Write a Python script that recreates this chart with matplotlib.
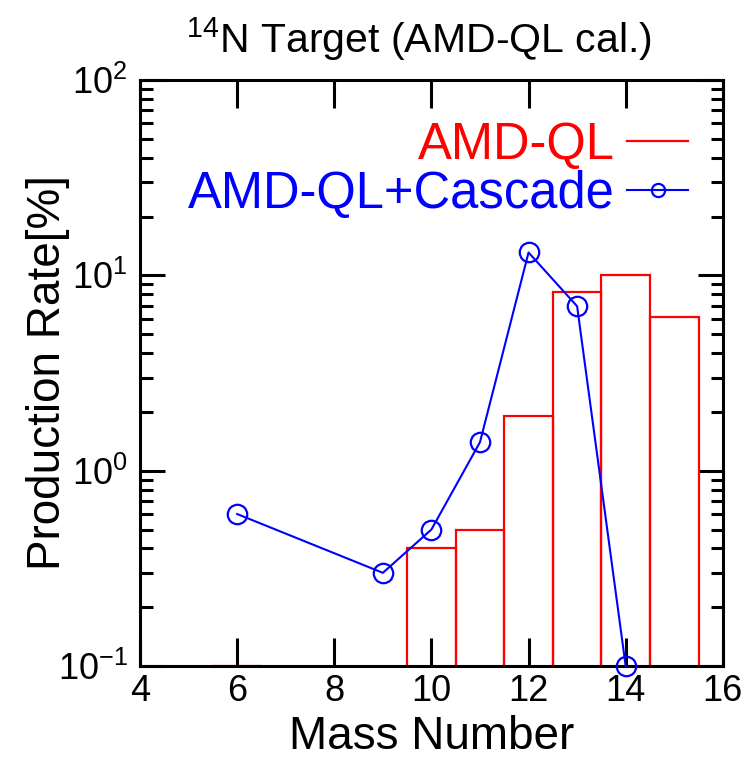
import matplotlib
matplotlib.use('Agg')
import matplotlib.pyplot as plt
from matplotlib.lines import Line2D
from matplotlib.ticker import LogLocator, NullFormatter, FixedLocator

plt.rcParams['font.family'] = ['Liberation Sans', 'DejaVu Sans']
plt.rcParams['mathtext.fontset'] = 'custom'
plt.rcParams['mathtext.rm'] = 'Liberation Sans'
plt.rcParams['mathtext.it'] = 'Liberation Sans'
plt.rcParams['mathtext.bf'] = 'Liberation Sans'
plt.rcParams['mathtext.default'] = 'regular'

# AMD-QL histogram (mass number -> production rate %)
amd_mass = [6, 10, 11, 12, 13, 14, 15]
amd_rate = [0.1, 0.4, 0.5, 1.9, 8.2, 10.0, 6.1]

# AMD-QL + Cascade
casc_mass = [6, 9, 10, 11, 12, 13, 14]
casc_rate = [0.6, 0.3, 0.5, 1.4, 13.1, 6.95, 0.1]

x_ticks = [4, 6, 8, 10, 12, 14, 16]

fig = plt.figure(figsize=(7.49, 7.59), dpi=100)
ax = fig.add_axes([0.187, 0.1225, 0.778, 0.772])

ax.bar(amd_mass, amd_rate, width=1.0, fill=False, edgecolor='red',
       linewidth=1.6, zorder=2)
ax.plot(casc_mass, casc_rate, color='blue', linewidth=1.5, marker='o',
        markersize=14, markerfacecolor='none', markeredgewidth=1.6,
        clip_on=False, zorder=3)

ax.set_yscale('log')
ax.set_xlim(4, 16)
ax.set_ylim(0.1, 100)

ax.xaxis.set_major_locator(FixedLocator(x_ticks))
ax.yaxis.set_major_locator(LogLocator(base=10, numticks=10))
ax.yaxis.set_minor_locator(LogLocator(base=10, subs=range(2, 10), numticks=10))
ax.yaxis.set_minor_formatter(NullFormatter())

for s in ax.spines.values():
    s.set_linewidth(2.2)

ax.tick_params(axis='both', which='major', direction='in', top=True, right=True,
               width=2.2, labelsize=26)
ax.tick_params(axis='x', which='major', length=20, pad=6)
ax.tick_params(axis='y', which='major', length=18, pad=9)
ax.tick_params(axis='y', which='minor', direction='in', right=True,
               length=9, width=2.2)

ax.set_xlabel('Mass Number', fontsize=33, labelpad=4)
ax.set_ylabel('Production Rate[%]', fontsize=33, labelpad=-9)
ax.set_title('$^{14}$N Target (AMD-QL cal.)', fontsize=29.5, pad=20, x=0.478)

handles = [
    Line2D([], [], color='red', linewidth=1.6),
    Line2D([], [], color='blue', linewidth=1.5, marker='o', markersize=9.5,
           markerfacecolor='none', markeredgewidth=1.6),
]
leg = ax.legend(handles, ['AMD-QL', 'AMD-QL+Cascade'], loc='upper right',
                bbox_to_anchor=(0.975, 0.965), frameon=False, markerfirst=False,
                fontsize=36.5, handlelength=1.2, handletextpad=0.25,
                labelspacing=0.0, borderaxespad=0)
for t, c in zip(leg.get_texts(), ['red', 'blue']):
    t.set_color(c)

fig.savefig('out.png', dpi=100)
